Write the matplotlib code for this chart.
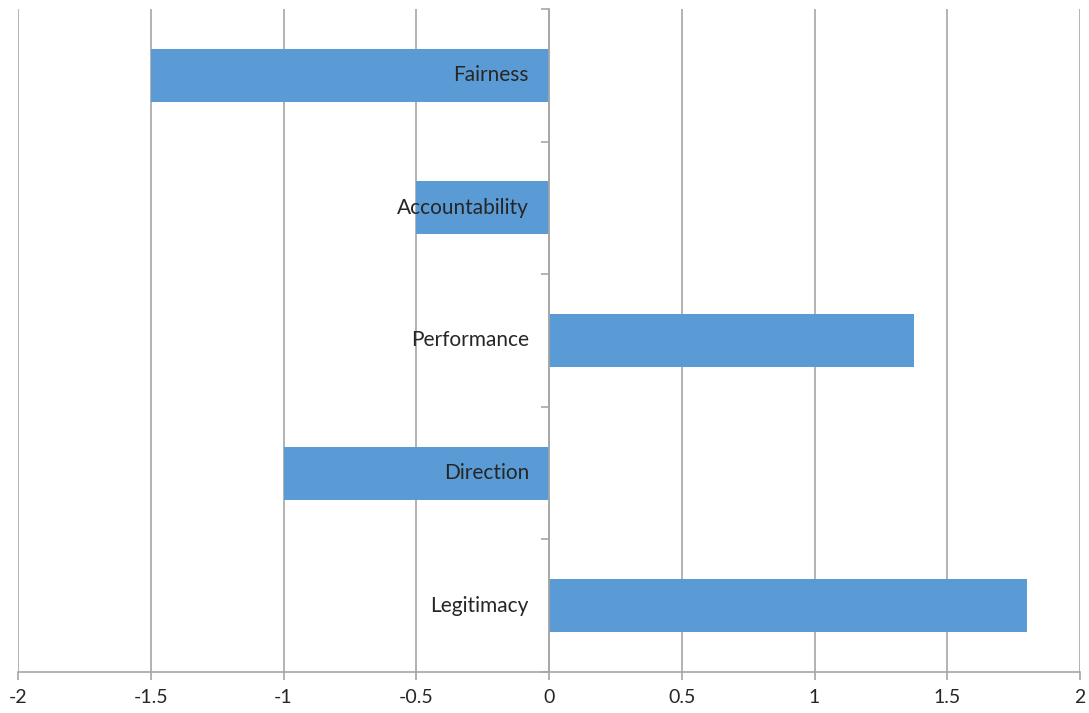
import matplotlib
matplotlib.use("Agg")
import matplotlib.pyplot as plt
from matplotlib.ticker import FixedLocator

plt.rcParams['font.family'] = ['Lato', 'DejaVu Sans']

# categories from top to bottom
categories = ['Fairness', 'Accountability', 'Performance', 'Direction', 'Legitimacy']
scores = [-1.5, -0.5, 1.375, -1.0, 1.8]
x_ticks = [-2, -1.5, -1, -0.5, 0, 0.5, 1, 1.5, 2]
x_tick_labels = ['-2', '-1.5', '-1', '-0.5', '0', '0.5', '1', '1.5', '2']

bar_color = '#5B9BD5'
grid_color = '#A6A6A6'
text_color = '#262626'

fig = plt.figure(figsize=(10.89, 7.13), dpi=100)
ax = fig.add_axes([18 / 1089, 41 / 713, 1062 / 1089, 663 / 713])

n = len(categories)
ypos = list(range(n))
ax.barh(ypos, scores, height=0.4, color=bar_color, zorder=3)
ax.set_ylim(n - 0.5, -0.5)
ax.set_xlim(-2, 2)

ax.set_xticks(x_ticks)
ax.set_xticklabels(x_tick_labels, fontsize=14, color=text_color)
ax.tick_params(axis='x', length=6, width=1.2, color=grid_color, direction='out', pad=6)
ax.xaxis.grid(True, color=grid_color, linewidth=1.2, zorder=0)

# vertical axis at zero with tick marks between categories
ax.spines['left'].set_position(('data', 0))
ax.spines['left'].set_color(grid_color)
ax.spines['left'].set_linewidth(1.2)
ax.spines['left'].set_zorder(4)
ax.yaxis.set_major_locator(FixedLocator([i - 0.5 for i in range(n + 1)]))
ax.set_yticklabels([])
ax.tick_params(axis='y', length=6, width=1.2, color=grid_color, direction='out')

ax.spines['bottom'].set_color(grid_color)
ax.spines['bottom'].set_linewidth(1.2)
ax.spines['top'].set_visible(False)
ax.spines['right'].set_visible(False)

for i, name in enumerate(categories):
    ax.annotate(name, xy=(0, i), xytext=(-20, 0), textcoords='offset pixels',
                ha='right', va='center', fontsize=15, color=text_color, zorder=5)

fig.savefig('out.png', dpi=100)
